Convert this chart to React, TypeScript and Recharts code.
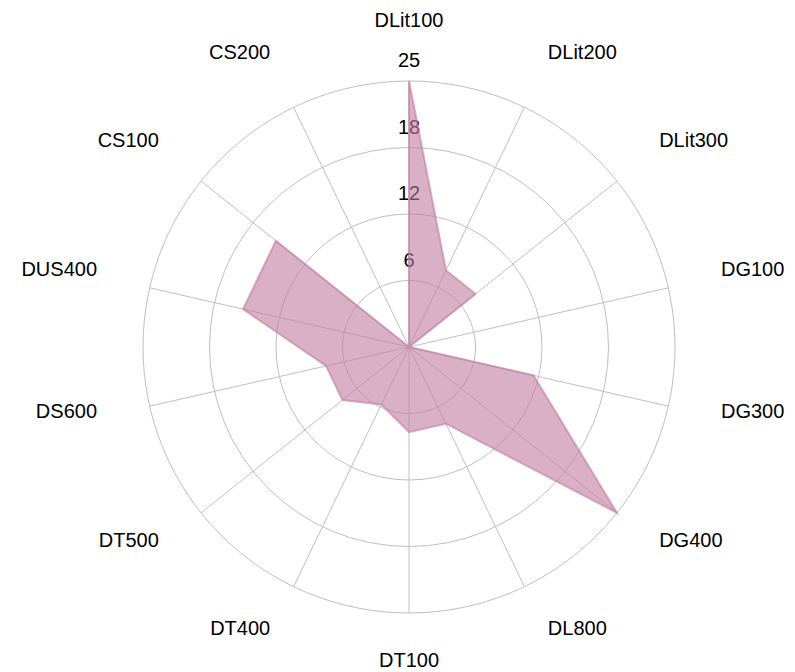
import { RadarChart, Radar, PolarGrid, PolarAngleAxis, PolarRadiusAxis } from 'recharts';

const categories = [
  'DLit100', 'DLit200', 'DLit300', 'DG100', 'DG300', 'DG400', 'DL800',
  'DT100', 'DT400', 'DT500', 'DS600', 'DUS400', 'CS100', 'CS200',
];
const values = [25, 8, 8, 0, 12, 25, 8, 8, 6, 8, 8, 16, 16, 0];
const radiusTicks = [0, 6.25, 12.5, 18.75, 25];
const radiusTickLabels = ['', '6', '12', '18', '25'];

const data = categories.map((name, i) => ({ name, value: values[i] }));

const CX = 409;
const CY = 347;
const R = 266;
const LABEL_R = 320;
const FONT = '"Liberation Sans", Arial, sans-serif';

function AngleTick(props: any) {
  const { payload, index } = props;
  const deg = 90 - (index * 360) / categories.length;
  const rad = (deg * Math.PI) / 180;
  const cos = Math.cos(rad);
  const x = CX + cos * LABEL_R;
  const y = CY - Math.sin(rad) * LABEL_R;
  const anchor = Math.abs(cos) < 1e-3 ? 'middle' : cos > 0 ? 'start' : 'end';
  return (
    <text x={x} y={y} textAnchor={anchor} fontSize={20} fontFamily={FONT} fill="#000">
      {payload.value}
    </text>
  );
}

function RadiusTick(props: any) {
  const { x, y, index } = props;
  const label = radiusTickLabels[index];
  if (!label) return null;
  return (
    <text x={x} y={y - 14} textAnchor="middle" fontSize={20} fontFamily={FONT} fill="#000">
      {label}
    </text>
  );
}

export default function App() {
  return (
    <div style={{ position: 'absolute', left: 0, top: 0, width: 795, height: 672, background: '#fff' }}>
      <RadarChart
        width={795}
        height={672}
        data={data}
        cx={CX}
        cy={CY}
        outerRadius={R}
        startAngle={90}
        endAngle={-270}
        margin={{ top: 0, right: 0, bottom: 0, left: 0 }}
      >
        <PolarGrid gridType="circle" stroke="#c0c0c0" strokeWidth={1} />
        <PolarAngleAxis dataKey="name" tick={<AngleTick />} tickLine={false} axisLine={false} />
        <PolarRadiusAxis
          angle={90}
          domain={[0, 25]}
          ticks={radiusTicks}
          tick={<RadiusTick />}
          axisLine={false}
          tickLine={false}
          {...({ zIndex: 50 } as any)}
        />
        <Radar
          dataKey="value"
          fill="#c27ba0"
          fillOpacity={0.6}
          stroke="#c27ba0"
          strokeOpacity={0.6}
          strokeWidth={2}
          isAnimationActive={false}
        />
      </RadarChart>
    </div>
  );
}
